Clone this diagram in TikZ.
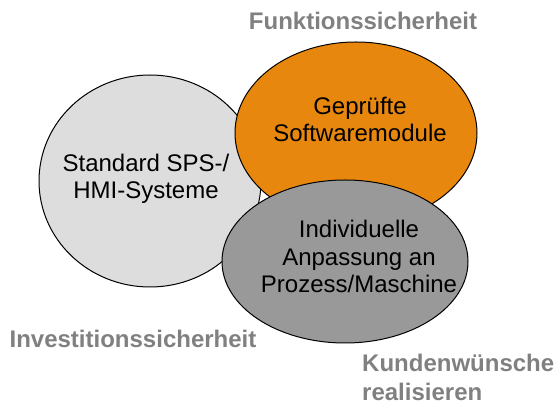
\documentclass[tikz,border=0pt]{standalone}
\usepackage{fontspec}
\setmainfont{Liberation Sans}
\definecolor{lightfill}{HTML}{DDDDDD}
\definecolor{orangefill}{HTML}{E8870E}
\definecolor{darkfill}{HTML}{999999}
\definecolor{labelgray}{HTML}{808080}
\begin{document}
\begin{tikzpicture}[x=1pt,y=-1pt,
  blob/.style={draw=black,line width=1pt},
  bodytext/.style={align=center,inner sep=0pt,font=\fontsize{24}{27.5}\selectfont},
  sidelabel/.style={inner sep=0pt,text=labelgray,font=\fontsize{24}{29}\selectfont\bfseries}]
\useasboundingbox (0,0) rectangle (555,411);
\draw[blob,fill=lightfill] (150,181) ellipse [x radius=111,y radius=106];
\draw[blob,fill=orangefill] (356,133) ellipse [x radius=121,y radius=91];
\draw[blob,fill=darkfill] (345,261.5) ellipse [x radius=123,y radius=81.5];
\node[bodytext] (std) at (146,179) {Standard SPS-/\\HMI-Systeme};
\node[bodytext] (gep) at (360,119.5) {Geprüfte\\Softwaremodule};
\node[bodytext] (ind) at (359,256.5) {Individuelle\\Anpassung an\\Prozess/Maschine};
\node[sidelabel] (fkt) at (363,21) {Funktionssicherheit};
\node[sidelabel] (inv) at (133,339) {Investitionssicherheit};
\node[sidelabel,align=left,anchor=west] (kun) at (362,377.5) {Kundenwünsche\\realisieren};
\end{tikzpicture}
\end{document}
